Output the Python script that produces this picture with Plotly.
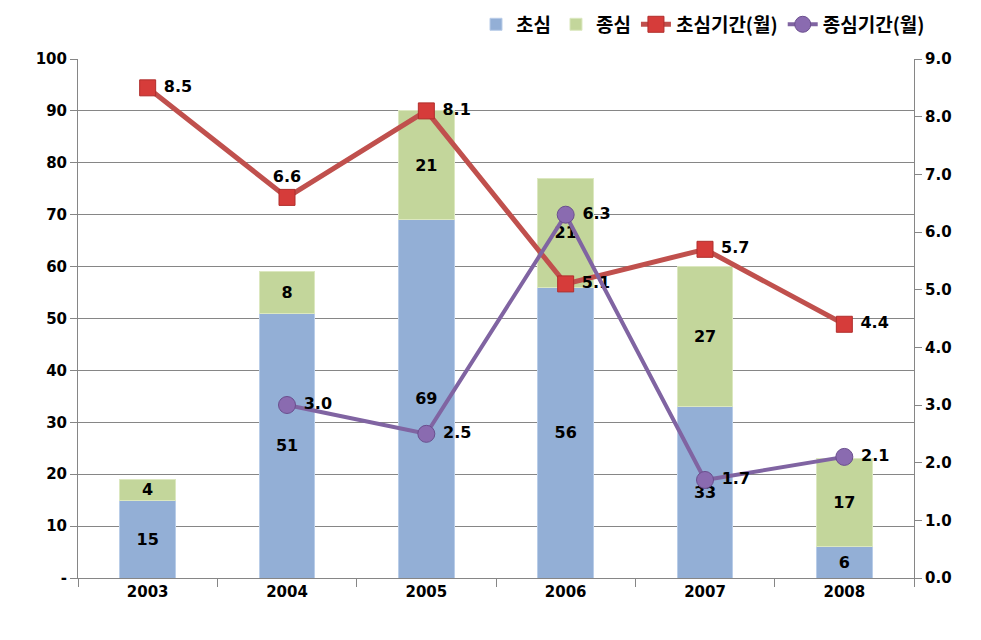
import plotly.graph_objects as go

years = ["2003", "2004", "2005", "2006", "2007", "2008"]
first = [15, 51, 69, 56, 33, 6]          # 초심
final = [4, 8, 21, 21, 27, 17]           # 종심
first_period = [8.5, 6.6, 8.1, 5.1, 5.7, 4.4]   # 초심기간(월)
final_period = [None, 3.0, 2.5, 6.3, 1.7, 2.1]  # 종심기간(월)

left_ticks = [0, 10, 20, 30, 40, 50, 60, 70, 80, 90, 100]
left_ticktext = ["-"] + [str(v) for v in left_ticks[1:]]
right_ticks = [0, 1, 2, 3, 4, 5, 6, 7, 8, 9]

FONT = "DejaVu Sans, Noto Sans CJK KR, sans-serif"

fig = go.Figure()
fig.add_trace(go.Bar(
    x=years, y=first, name="초심",
    marker=dict(color="#93AFD6", line=dict(color="#B9CDE8", width=1)),
    text=[f"<b>{v}</b>" for v in first], textposition="inside",
    insidetextanchor="middle", constraintext="none", textangle=0,
    textfont=dict(color="black", size=16, family=FONT),
    width=0.4,
))
fig.add_trace(go.Bar(
    x=years, y=final, name="종심",
    marker=dict(color="#C3D69B", line=dict(color="#DCE8C0", width=1)),
    text=[f"<b>{v}</b>" for v in final], textposition="inside",
    insidetextanchor="middle", constraintext="none", textangle=0,
    textfont=dict(color="black", size=16, family=FONT),
    width=0.4,
))
fig.add_trace(go.Scatter(
    x=years, y=first_period, name="초심기간(월)", yaxis="y2",
    mode="lines+markers+text",
    line=dict(color="#C0504D", width=5),
    marker=dict(symbol="square", size=16, color="#D63C3A",
                line=dict(color="#B02E2C", width=1)),
    text=[(f"<b>{v:.1f}</b>" if i == 1 else f" <b>{v:.1f}</b>")
          for i, v in enumerate(first_period)],
    textposition=["middle right", "top center", "middle right",
                  "middle right", "middle right", "middle right"],
    textfont=dict(color="black", size=16, family=FONT),
))
fig.add_trace(go.Scatter(
    x=years, y=final_period, name="종심기간(월)", yaxis="y2",
    mode="lines+markers+text",
    line=dict(color="#8064A2", width=4),
    marker=dict(symbol="circle", size=17, color="#8A6BB0",
                line=dict(color="#6A4E8E", width=1)),
    text=[("" if v is None else f" <b>{v:.1f}</b>") for v in final_period],
    textposition="middle right",
    textfont=dict(color="black", size=16, family=FONT),
))

fig.update_layout(
    width=973, height=632,
    barmode="stack",
    plot_bgcolor="white", paper_bgcolor="white",
    margin=dict(l=70, r=67, t=51, b=62, autoexpand=False),
    font=dict(family=FONT, size=15, color="black"),
    showlegend=True,
    legend=dict(orientation="h", xref="container", yref="container",
                x=0.481, y=0.974, xanchor="left", yanchor="middle",
                font=dict(size=19, family="Noto Sans CJK KR, sans-serif", weight="bold"),
                traceorder="normal", itemwidth=30, tracegroupgap=0,
                bgcolor="rgba(0,0,0,0)"),
    xaxis=dict(type="category", showgrid=False, showline=True, linecolor="#868686",
               ticks="outside", tickson="boundaries", ticklen=8, tickcolor="#868686",
               tickfont=dict(size=15, weight="bold"), automargin=False),
    yaxis=dict(range=[0, 100], tickvals=left_ticks, ticktext=left_ticktext,
               showgrid=True, gridcolor="#868686", gridwidth=1,
               showline=True, linecolor="#868686", ticks="outside", ticklen=7,
               tickcolor="#868686", tickfont=dict(size=15, weight="bold"),
               zeroline=False, automargin=False),
    yaxis2=dict(range=[0, 9], tickvals=right_ticks,
                ticktext=[f"{v:.1f}" for v in right_ticks],
                overlaying="y", side="right", showgrid=False,
                showline=True, linecolor="#868686", ticks="outside", ticklen=7,
                tickcolor="#868686", tickfont=dict(size=15, weight="bold"),
                zeroline=False, automargin=False),
)

fig.write_html("out.html")
